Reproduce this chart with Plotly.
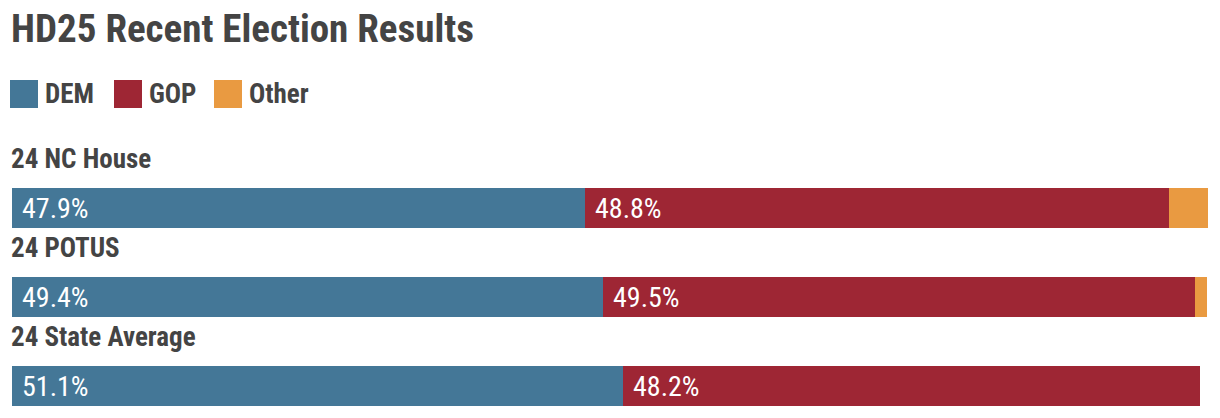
import plotly.graph_objects as go

W, H = 1220, 418

title = "HD25 Recent Election Results"
categories = ["24 NC House", "24 POTUS", "24 State Average"]
parties = ["DEM", "GOP", "Other"]
colors = ["#447797", "#9e2634", "#e99a41"]
dem = [47.9, 49.4, 51.1]
gop = [48.8, 49.5, 48.2]
other = [3.3, 1.0, 0.0]
series = [dem, gop, other]
show_labels = [True, True, False]

FONT = "Roboto Condensed, Arial Narrow, DejaVu Sans Condensed, sans-serif"
TXT = "#444444"

fig = go.Figure()
for name, vals, col in zip(parties, series, colors):
    fig.add_trace(go.Bar(
        y=categories, x=vals, name=name, orientation="h",
        marker=dict(color=col, line=dict(width=0)),
        width=0.45, showlegend=False, hoverinfo="skip",
    ))

px = lambda p: p / W
py = lambda p: 1 - p / H
annotations = []
shapes = []

annotations.append(dict(text=f"<b>{title}</b>", xref="paper", yref="paper",
                        x=px(9), y=py(29), xanchor="left", yanchor="middle",
                        showarrow=False, font=dict(family=FONT, size=39, color=TXT)))

leg_x = [10, 114, 214]
for lx, name, col in zip(leg_x, parties, colors):
    shapes.append(dict(type="rect", xref="paper", yref="paper",
                       x0=px(lx), x1=px(lx + 28), y0=py(108), y1=py(80),
                       fillcolor=col, line=dict(width=0)))
    annotations.append(dict(text=f"<b>{name}</b>", xref="paper", yref="paper",
                            x=px(lx + 33), y=py(94), xanchor="left", yanchor="middle",
                            showarrow=False, font=dict(family=FONT, size=27, color=TXT)))

for i, cat in enumerate(categories):
    annotations.append(dict(text=f"<b>{cat}</b>", xref="paper", yref="y",
                            x=px(9), y=cat, xanchor="left", yanchor="middle", yshift=49,
                            showarrow=False, font=dict(family=FONT, size=27, color=TXT)))
    base = 0.0
    for vals, show in zip(series, show_labels):
        if show:
            annotations.append(dict(text=f"{vals[i]:.1f}%", xref="x", yref="y",
                                    x=base, y=cat, xanchor="left", yanchor="middle",
                                    xshift=8, showarrow=False,
                                    font=dict(family=FONT, size=28, color="white")))
        base += vals[i]

spacing = 89.0
vtop = -208 / spacing
vbot = vtop + H / spacing

fig.update_layout(
    width=W, height=H, barmode="stack",
    margin=dict(l=0, r=0, t=0, b=0),
    paper_bgcolor="white", plot_bgcolor="white",
    xaxis=dict(range=[0, 100], domain=[px(12), px(1208)], visible=False, fixedrange=True),
    yaxis=dict(type="category", categoryorder="array", categoryarray=categories,
               range=[vbot, vtop], visible=False, fixedrange=True),
    annotations=annotations, shapes=shapes,
    bargap=0,
)

fig.write_html("out.html", config={"displayModeBar": False},
               post_script="document.body.style.margin='0';document.body.style.overflow='hidden';")
